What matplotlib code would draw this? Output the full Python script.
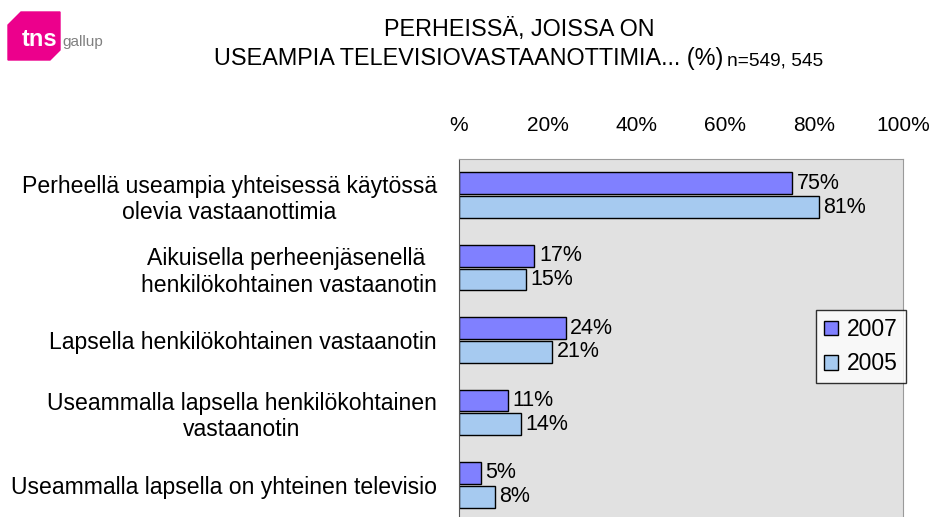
import numpy as np
import matplotlib.pyplot as plt
from matplotlib.patches import Polygon

plt.rcParams['font.family'] = ['Liberation Sans', 'DejaVu Sans']

# Tiedot
categories = [
    'Perheellä useampia yhteisessä käytössä\nolevia vastaanottimia',
    'Aikuisella perheenjäsenellä \nhenkilökohtainen vastaanotin',
    'Lapsella henkilökohtainen vastaanotin',
    'Useammalla lapsella henkilökohtainen\nvastaanotin',
    'Useammalla lapsella on yhteinen televisio',
]
values_2007 = [75, 17, 24, 11, 5]
values_2005 = [81, 15, 21, 14, 8]
series_names = ['2007', '2005']
tick_values = [0, 20, 40, 60, 80, 100]
tick_labels = ['%', '20%', '40%', '60%', '80%', '100%']

W, H = 934, 517
fig = plt.figure(figsize=(W / 100, H / 100), dpi=100)

# Kuvaajan alue pikseleinä
left, right, top, bottom = 459, 903, 159, 521
ax = fig.add_axes([left / W, 1 - bottom / H, (right - left) / W, (bottom - top) / H])
ax.set_facecolor('#e1e1e1')

y = np.arange(len(categories))
h = 0.30
off = 0.165
b1 = ax.barh(y - off, values_2007, height=h, color='#8080ff', edgecolor='black', linewidth=1.0, label=series_names[0])
b2 = ax.barh(y + off, values_2005, height=h, color='#a6caf0', edgecolor='black', linewidth=1.0, label=series_names[1])

for bars, vals in [(b1, values_2007), (b2, values_2005)]:
    for bar, v in zip(bars, vals):
        ax.text(v + 1.0, bar.get_y() + bar.get_height() / 2, f'{v}%',
                va='center', ha='left', fontsize=15.5)

ax.set_xlim(0, 100)
ax.set_ylim(len(categories) - 0.5, -0.5)

ax.xaxis.tick_top()
ax.set_xticks(tick_values)
ax.set_xticklabels(tick_labels, fontsize=15)
ax.tick_params(axis='x', length=0, pad=17)
ax.set_yticks(y)
ax.set_yticklabels(categories, fontsize=16.6, multialignment='center')
ax.tick_params(axis='y', length=0, pad=16)

for s in ['top', 'right', 'bottom']:
    ax.spines[s].set_color('#9a9a9a')
ax.spines['left'].set_color('#555555')

leg = ax.legend(loc='upper left', bbox_to_anchor=(816 / W, 1 - 310 / H), bbox_transform=fig.transFigure,
                fontsize=16.5, frameon=True, fancybox=False, edgecolor='black',
                handlelength=0.6, handleheight=0.6, handletextpad=0.4, borderpad=0.35,
                labelspacing=0.5, borderaxespad=0)
leg.get_frame().set_linewidth(1.0)

# Otsikko
fig.text(519 / W, 1 - 36 / H, 'PERHEISSÄ, JOISSA ON', ha='center', va='baseline', fontsize=16.8)
fig.text(723 / W, 1 - 65 / H, 'USEAMPIA TELEVISIOVASTAANOTTIMIA... (%)', ha='right', va='baseline', fontsize=16.8)
fig.text(727 / W, 1 - 65 / H, 'n=549, 545', ha='left', va='baseline', fontsize=13.8)

# Logo
logo = [(8, 25), (21, 12), (60, 12), (60, 50), (50, 60), (8, 60)]
fig.patches.append(Polygon([(px / W, 1 - py / H) for px, py in logo], closed=True,
                           transform=fig.transFigure, color='#ec008c', figure=fig))
fig.text(40 / W, 1 - 46 / H, 'tns', ha='center', va='baseline', fontsize=17, color='white', weight='bold')
fig.text(62 / W, 1 - 46 / H, 'gallup', ha='left', va='baseline', fontsize=11, color='#808080')

fig.savefig('out.png', dpi=100)
